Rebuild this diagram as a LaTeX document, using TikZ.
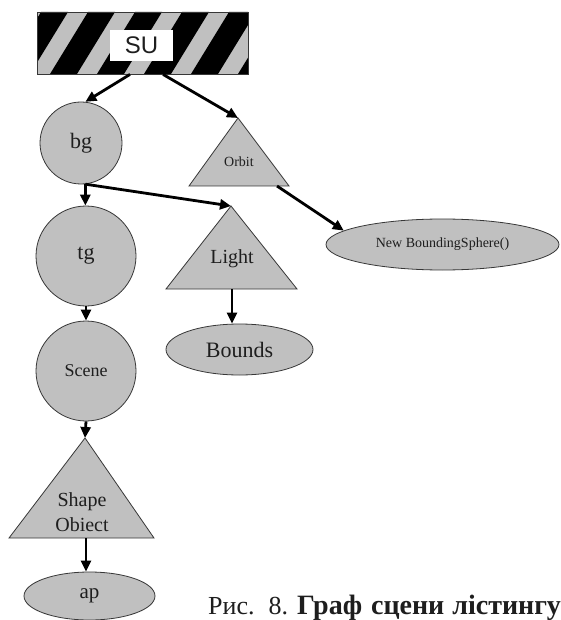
\documentclass[tikz,border=0pt]{standalone}
\usepackage{fontspec}
\setmainfont{Liberation Serif}
\newfontfamily\susans{Liberation Sans}
\usetikzlibrary{arrows.meta,shapes.geometric}
\definecolor{nodegray}{RGB}{192,192,192}
\definecolor{edgegray}{RGB}{55,55,55}
\definecolor{txt}{RGB}{30,30,30}
\newcommand{\fs}[1]{\fontsize{#1}{#1}\selectfont}
\begin{document}
\begin{tikzpicture}[x=1pt,y=-1pt,
  gnode/.style={draw=edgegray, line width=0.8pt, fill=nodegray, inner sep=0pt, text=txt},
  circ/.style={gnode, circle},
  ell/.style={gnode, ellipse},
  tri/.style={draw=edgegray, line width=0.8pt, fill=nodegray, line join=miter},
  lbl/.style={inner sep=0pt, text=txt},
  conn/.style={-{Triangle[length=11pt,width=10pt]}, line width=2.8pt, black}
]
\useasboundingbox (0,0) rectangle (560,620);
\fill[white] (0,0) rectangle (560,620);

% SU striped box
\begin{scope}
  \clip (37,12) rectangle (248,74);
  \fill[nodegray] (37,12) rectangle (248,74);
  \foreach \i in {-1,...,5} {
    \fill[black] ({50+47*\i},74) -- ({77+47*\i},74) -- ({115+47*\i},12) -- ({88+47*\i},12) -- cycle;
  }
\end{scope}
\node[draw=edgegray, line width=0.8pt, minimum width=211pt, minimum height=62pt, inner sep=0pt] (su) at (142.5,43) {};
\node[fill=white, minimum width=63pt, minimum height=31pt, inner sep=0pt, font=\susans\fs{24}, text=txt] (sulabel) at (141.5,45.5) {SU};

% circles
\node[circ, minimum size=82pt, font=\fs{22}] (bg) at (81,143) {bg};
\node[circ, minimum size=100pt, font=\fs{22}] (tg) at (86,256) {tg};
\node[circ, minimum size=100pt, font=\fs{18}] (scene) at (86,371) {Scene};

% triangles
\coordinate (orbittop) at (238,118);
\coordinate (orbitbase) at (277,186);
\draw[tri] (orbittop) -- (289,186) -- (189,186) -- cycle;
\node[lbl, font=\fs{14}] (orbit) at (239,162) {Orbit};

\coordinate (lighttop) at (231,206);
\coordinate (lightbase) at (232,289);
\draw[tri] (lighttop) -- (297,289) -- (166,289) -- cycle;
\node[lbl, font=\fs{20}] (light) at (232,259) {Light};

\coordinate (shapetop) at (85,438);
\coordinate (shapebase) at (86,538);
\draw[tri] (shapetop) -- (154,538) -- (9,538) -- cycle;
\node[lbl, align=center, font=\fontsize{20}{25}\selectfont] (shape) at (82,512) {Shape\\Obiect};

% ellipses
\node[ell, minimum width=147pt, minimum height=51pt, font=\fs{22}] (bounds) at (239.5,349.5) {Bounds};
\node[ell, minimum width=233pt, minimum height=51pt, font=\fs{14}] (nbs) at (442.5,244.5) {New BoundingSphere()};
\node[ell, minimum width=131pt, minimum height=48pt, font=\fs{21}] (ap) at (89.5,596) {ap};

% connectors
\draw[conn] ([xshift=-12.5pt]su.south) -- (bg.84);
\draw[conn] ([xshift=20.5pt]su.south) -- (orbittop);
\draw[conn] (bg.-84) -- (lighttop);
\draw[conn] (bg.-84) -- (bg.-84 |- tg.north);
\draw[conn] (tg.south) -- (scene.north);
\draw[conn] (scene.south) -- (shapetop);
\draw[conn] (shapebase) -- (shapebase |- ap.north);
\draw[conn] (lightbase) -- (lightbase |- bounds.north);
\draw[conn] (orbitbase) -- (nbs.172);

% caption
\node[anchor=base west, inner sep=0pt, font=\fs{26}, text=txt] (caption) at (208,614)
  {Рис.\hspace{14pt}8.\hspace{9pt}{\fs{28}\bfseries Граф\hspace{9pt}сцени\hspace{8pt}лістингу}};
\end{tikzpicture}
\end{document}
